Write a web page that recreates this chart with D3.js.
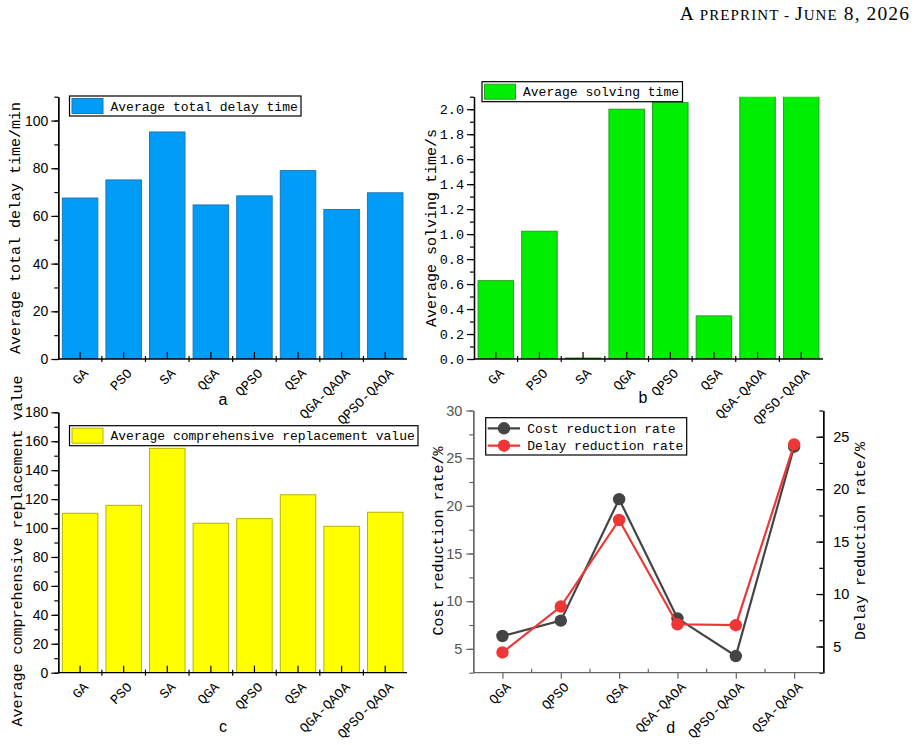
<!DOCTYPE html>
<html>
<head>
<meta charset="utf-8">
<script src="https://cdn.jsdelivr.net/npm/d3@7"></script>
<style>
  body { margin: 0; background: #fff; }
  .mono { font-family: "Liberation Mono", "DejaVu Sans Mono", monospace; }
  .sans { font-family: "Liberation Sans", Arial, sans-serif; }
</style>
</head>
<body>
<svg id="fig" width="917" height="745"></svg>
<script>
// data
var algos = ["GA", "PSO", "SA", "QGA", "QPSO", "QSA", "QGA-QAOA", "QPSO-QAOA"];
var delayTime = [67.5, 75.1, 95.2, 64.6, 68.4, 79.0, 62.7, 69.7];
var solveTime = [0.627, 1.023, 0.008, 2.0, 2.054, 0.345, 2.4, 2.5]; // last two run past the top
var replaceValue = [110.2, 115.7, 155.1, 103.3, 106.5, 123.0, 101.2, 110.9];

var quantumAlgos = ["QGA", "QPSO", "QSA", "QGA-QAOA", "QPSO-QAOA", "QSA-QAOA"];
var costRate = [6.35, 7.96, 20.7, 8.2, 4.25, 26.2];
var delayRate = [4.43, 8.81, 17.06, 7.12, 7.03, 24.27];

var svg = d3.select("#fig");

// page header, small caps done by hand
var hdr = svg.append("text")
    .attr("x", 910).attr("y", 20)
    .attr("text-anchor", "end")
    .style("letter-spacing", "1.1px")
    .style("font-family", "Liberation Serif, serif");
[["A", 19.5], [" PREPRINT - ", 15], ["J", 19.5], ["UNE", 15], [" 8, 2026", 19.5]].forEach(function(p) {
  hdr.append("tspan").style("font-size", p[1] + "px").text(p[0]);
});

function styleAxis(g, color) {
  g.select(".domain").attr("stroke", color).attr("stroke-width", 1.3);
  g.selectAll(".tick line").attr("stroke", color).attr("stroke-width", 1.2);
}

function barPanel(o) {
  var x = d3.scaleBand().domain(algos).range([o.x0, o.x1])
      .paddingInner(0.186).paddingOuter(0.093);
  var y = d3.scaleLinear().domain(o.domain).range([o.yBot, o.yTop]);
  var g = svg.append("g");

  var clipId = "clip" + o.id;
  svg.append("clipPath").attr("id", clipId).append("rect")
      .attr("x", o.x0).attr("y", o.yTop)
      .attr("width", o.x1 - o.x0).attr("height", o.yBot - o.yTop);

  g.append("g").attr("clip-path", "url(#" + clipId + ")")
    .selectAll("rect").data(o.values).enter().append("rect")
      .attr("x", function(d, i) { return x(algos[i]); })
      .attr("y", function(d) { return y(d); })
      .attr("width", x.bandwidth())
      .attr("height", function(d) { return o.yBot - y(d); })
      .attr("fill", o.fill)
      .attr("stroke", o.edge)
      .attr("stroke-width", 1);

  // left axis: minor then major ticks, outward
  var minor = d3.range(o.domain[0], o.domain[1] + 1e-9, o.minorStep);
  var major = d3.range(o.domain[0], o.domain[1] + 1e-9, o.majorStep);
  g.append("g").attr("transform", "translate(" + o.x0 + ",0)")
    .call(d3.axisLeft(y).tickValues(minor).tickSize(4).tickFormat("").tickSizeOuter(0))
    .call(styleAxis, "#000");
  var ya = g.append("g").attr("transform", "translate(" + o.x0 + ",0)")
    .call(d3.axisLeft(y).tickValues(major).tickSize(7).tickPadding(3)
          .tickFormat(o.fmt).tickSizeOuter(0))
    .call(styleAxis, "#000");
  ya.selectAll(".tick text")
    .attr("class", o.tickClass)
    .style("font-size", o.tickSize)
    .attr("fill", "#000");

  // bottom axis: major ticks inward at centres, minor at band edges
  var xa = g.append("g").attr("transform", "translate(0," + o.yBot + ")")
    .call(d3.axisBottom(x).tickSize(-7).tickFormat("").tickSizeOuter(0))
    .call(styleAxis, "#000");
  xa.select(".domain").attr("d", "M" + o.x0 + ",0H" + o.x1);
  var edges = algos.slice(1).map(function(c) { return x(c) - x.step() * x.paddingInner() / 2; });
  g.selectAll(".xminor" + o.id).data(edges).enter().append("line")
      .attr("x1", function(d) { return d; }).attr("x2", function(d) { return d; })
      .attr("y1", o.yBot - 3).attr("y2", o.yBot + 3)
      .attr("stroke", "#000").attr("stroke-width", 1.2);

  g.selectAll(".xlab" + o.id).data(algos).enter().append("text")
      .attr("class", "mono")
      .attr("text-anchor", "end")
      .attr("transform", function(d) {
        return "translate(" + (x(d) + x.bandwidth() / 2 + 9) + "," + (o.yBot + 15) + ") rotate(-45)";
      })
      .style("font-size", "13.5px")
      .text(function(d) { return d; });

  // y label
  g.append("text").attr("class", "mono")
      .attr("transform", "translate(" + o.labX + "," + o.labY + ") rotate(-90)")
      .attr("text-anchor", "middle")
      .style("font-size", "15px")
      .text(o.yLabel);

  // legend
  var lg = g.append("g");
  lg.append("rect").attr("x", o.lx).attr("y", o.ly).attr("width", o.lw).attr("height", 20)
      .attr("fill", "#fff").attr("stroke", "#000").attr("stroke-width", 1.2);
  lg.append("rect").attr("x", o.lx + 2.5).attr("y", o.ly + 2.5).attr("width", 31).attr("height", 15)
      .attr("fill", o.fill).attr("stroke", o.edge).attr("stroke-width", 1);
  lg.append("text").attr("class", "mono")
      .attr("x", o.lx + 41).attr("y", o.ly + 14.5)
      .style("font-size", "13px")
      .text(o.legend);

  g.append("text").attr("class", "sans")
      .attr("x", o.tagX).attr("y", o.tagY)
      .attr("text-anchor", "middle")
      .style("font-size", "16px")
      .text(o.tag);
}

barPanel({
  id: "a", values: delayTime, x0: 58.3, x1: 407, yTop: 96.7, yBot: 359,
  domain: [0, 110], majorStep: 20, minorStep: 10, fmt: d3.format("d"),
  tickClass: "sans", tickSize: "14px",
  fill: "#009cf5", edge: "#1b78b8",
  yLabel: "Average total delay time/min", labX: 20, labY: 228,
  legend: "Average total delay time", lx: 69.5, ly: 96, lw: 231.5,
  tag: "a", tagX: 223, tagY: 405
});

barPanel({
  id: "b", values: solveTime, x0: 474, x1: 823, yTop: 96.7, yBot: 359,
  domain: [0, 2.1], majorStep: 0.2, minorStep: 0.1, fmt: d3.format(".1f"),
  tickClass: "mono", tickSize: "13.5px",
  fill: "#00ee00", edge: "#22a322",
  yLabel: "Average solving time/s", labX: 436, labY: 228,
  legend: "Average solving time", lx: 482, ly: 81.7, lw: 200.5,
  tag: "b", tagX: 643, tagY: 403
});

barPanel({
  id: "c", values: replaceValue, x0: 58.3, x1: 407, yTop: 412.3, yBot: 672.7,
  domain: [0, 180], majorStep: 20, minorStep: 10, fmt: d3.format("d"),
  tickClass: "sans", tickSize: "14px",
  fill: "#ffff00", edge: "#b5b500",
  yLabel: "Average comprehensive replacement value", labX: 22, labY: 551,
  legend: "Average comprehensive replacement value", lx: 69.5, ly: 425.7, lw: 348.5,
  tag: "c", tagX: 223, tagY: 732
});

// panel d: two-axis line chart
(function() {
  var x0 = 473.3, x1 = 823.3, yTop = 410.5, yBot = 672.7;
  var x = d3.scalePoint().domain(quantumAlgos).range([x0, x1]).padding(0.5);
  var yL = d3.scaleLinear().domain([2.5, 30]).range([yBot, yTop]);
  var yR = d3.scaleLinear().domain([2.5, 27.5]).range([yBot, yTop]);
  var g = svg.append("g");
  var grey = "#666";

  // left axis (grey)
  g.append("g").attr("transform", "translate(" + x0 + ",0)")
    .call(d3.axisLeft(yL).tickValues(d3.range(2.5, 30.01, 2.5)).tickSize(4).tickFormat("").tickSizeOuter(0))
    .call(styleAxis, grey);
  var la = g.append("g").attr("transform", "translate(" + x0 + ",0)")
    .call(d3.axisLeft(yL).tickValues(d3.range(5, 30.01, 5)).tickSize(7).tickPadding(4).tickSizeOuter(0))
    .call(styleAxis, grey);
  la.selectAll(".tick text").attr("class", "sans").style("font-size", "14.5px").attr("fill", "#555");

  // right axis (black, ticks inward)
  g.append("g").attr("transform", "translate(" + x1 + ",0)")
    .call(d3.axisRight(yR).tickValues(d3.range(2.5, 27.51, 2.5)).tickSize(-4).tickFormat("").tickSizeOuter(0))
    .call(styleAxis, "#000");
  var ra = g.append("g").attr("transform", "translate(" + x1 + ",0)")
    .call(d3.axisRight(yR).tickValues(d3.range(5, 25.01, 5)).tickSize(-7).tickPadding(10).tickSizeOuter(0))
    .call(styleAxis, "#000");
  ra.selectAll(".tick text").attr("class", "sans").style("font-size", "14.5px").attr("fill", "#000");

  // bottom axis
  var xa = g.append("g").attr("transform", "translate(0," + yBot + ")")
    .call(d3.axisBottom(x).tickSize(6).tickFormat("").tickSizeOuter(0))
    .call(styleAxis, grey);
  xa.select(".domain").attr("d", "M" + x0 + ",0H" + x1);
  var edges = quantumAlgos.slice(1).map(function(c) { return x(c) - x.step() / 2; });
  g.selectAll(".dminor").data(edges).enter().append("line")
      .attr("x1", function(d) { return d; }).attr("x2", function(d) { return d; })
      .attr("y1", yBot - 4).attr("y2", yBot)
      .attr("stroke", grey).attr("stroke-width", 1.2);

  g.selectAll(".dlab").data(quantumAlgos).enter().append("text")
      .attr("class", "mono")
      .attr("text-anchor", "end")
      .attr("transform", function(d) {
        return "translate(" + (x(d) + 9) + "," + (yBot + 15) + ") rotate(-45)";
      })
      .style("font-size", "13.5px")
      .text(function(d) { return d; });

  var series = [
    { name: "Cost reduction rate", vals: costRate, y: yL, color: "#444444" },
    { name: "Delay reduction rate", vals: delayRate, y: yR, color: "#ee3636" }
  ];
  series.forEach(function(s) {
    var line = d3.line()
      .x(function(d, i) { return x(quantumAlgos[i]); })
      .y(function(d) { return s.y(d); });
    g.append("path").datum(s.vals)
      .attr("d", line).attr("fill", "none")
      .attr("stroke", s.color).attr("stroke-width", 2.2);
    g.selectAll(null).data(s.vals).enter().append("circle")
      .attr("cx", function(d, i) { return x(quantumAlgos[i]); })
      .attr("cy", function(d) { return s.y(d); })
      .attr("r", 6.2)
      .attr("fill", s.color);
  });

  // axis titles
  g.append("text").attr("class", "mono")
      .attr("transform", "translate(443,541) rotate(-90)")
      .attr("text-anchor", "middle").style("font-size", "15px")
      .text("Cost reduction rate/%");
  g.append("text").attr("class", "mono")
      .attr("transform", "translate(865,541) rotate(-90)")
      .attr("text-anchor", "middle").style("font-size", "15px")
      .text("Delay reduction rate/%");

  // legend
  var lx = 485.7, ly = 417.7;
  var lg = g.append("g");
  lg.append("rect").attr("x", lx).attr("y", ly).attr("width", 201).attr("height", 37.3)
      .attr("fill", "#fff").attr("stroke", "#000").attr("stroke-width", 1.2);
  series.forEach(function(s, i) {
    var cy = ly + 10.6 + i * 17.4;
    lg.append("line").attr("x1", lx + 2).attr("x2", lx + 34.3)
      .attr("y1", cy).attr("y2", cy)
      .attr("stroke", s.color).attr("stroke-width", 2.2);
    lg.append("circle").attr("cx", lx + 18.3).attr("cy", cy).attr("r", 6.2).attr("fill", s.color);
    lg.append("text").attr("class", "mono")
      .attr("x", lx + 41.6).attr("y", cy + 4.5)
      .style("font-size", "13px")
      .text(s.name);
  });

  g.append("text").attr("class", "sans")
      .attr("x", 670.7).attr("y", 733)
      .attr("text-anchor", "middle").style("font-size", "16px")
      .text("d");
})();
</script>
</body>
</html>
